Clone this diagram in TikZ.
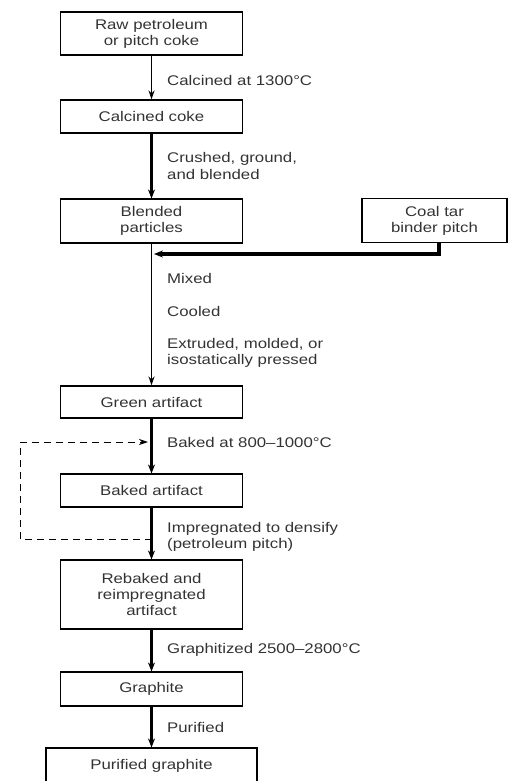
\documentclass[tikz,border=0pt]{standalone}
\usepackage{fontspec}
\setmainfont{Liberation Sans}[FakeStretch=1.2]
\usetikzlibrary{arrows.meta}

\definecolor{inkgray}{HTML}{333333}

\tikzset{
  stage/.style={draw=black, line width=1.1pt, minimum width=182pt, inner sep=0pt,
    align=center, text=inkgray, font=\fontsize{14}{16}\selectfont},
  note/.style={anchor=west, align=left, inner sep=0pt, text=inkgray,
    font=\fontsize{14}{16.5}\selectfont},
  thin flow/.style={line width=1.2pt, -{Stealth[length=9pt,width=6pt]}},
  heavy flow/.style={line width=3.2pt, -{Stealth[length=9pt,width=7pt]}},
  recycle/.style={line width=1pt, dash pattern=on 7pt off 5pt, -{Stealth[length=9pt,width=6pt]}}
}

\begin{document}
\begin{tikzpicture}[x=1pt,y=-1pt]
    \useasboundingbox (0,0) rectangle (509,781);

    % process stages
    \node[stage, minimum height=43pt] (raw) at (151.5,33.5) {Raw petroleum\\or pitch coke};
    \node[stage, minimum height=33pt] (calc) at (151.5,116.5) {Calcined coke};
    \node[stage, minimum height=44pt] (blend) at (151.5,221) {Blended\\particles};
    \node[stage, minimum width=145pt, minimum height=44pt] (coal) at (434.5,220.5) {Coal tar\\binder pitch};
    \node[stage, minimum height=32pt] (green) at (151.5,402) {Green artifact};
    \node[stage, minimum height=33pt] (baked) at (151.5,490.5) {Baked artifact};
    \node[stage, minimum height=69pt] (rebaked) at (151.5,594.5) {Rebaked and\\reimpregnated\\artifact};
    \node[stage, minimum height=34pt] (graph) at (151.5,689) {Graphite};
    \node[stage, minimum width=211pt, minimum height=36pt] (pure) at (151.5,766) {Purified graphite};

    % main flow
    \draw[thin flow] (raw) -- (calc);
    \draw[heavy flow] (calc) -- (blend);
    \draw[thin flow] (blend) -- (green);
    \draw[heavy flow] (green) -- (baked);
    \draw[heavy flow] (baked) -- (rebaked);
    \draw[heavy flow] (rebaked) -- (graph);
    \draw[heavy flow] (graph) -- (pure);

    % binder pitch joins the blend
    \coordinate (join) at (154,254);
    \draw[heavy flow] ([xshift=4.5pt]coal.south) |- (join);

    % re-impregnation loop
    \coordinate (back) at (151.5,539);
    \coordinate (corner) at (20,539);
    \coordinate (enter) at (148,442);
    \draw[recycle] (back) -- (corner) |- (enter);

    % step labels
    \node[note] (lcalc) at (167,80) {Calcined at 1300°C};
    \node[note] (lcrush) at (167,166) {Crushed, ground,\\and blended};
    \node[note] (lmix) at (167,278) {Mixed};
    \node[note] (lcool) at (167,311) {Cooled};
    \node[note] (lform) at (167,353) {Extruded, molded, or\\isostatically pressed};
    \node[note] (lbake) at (167,442) {Baked at 800–1000°C};
    \node[note] (limp) at (167,537) {Impregnated to densify\\(petroleum pitch)};
    \node[note] (lgraph) at (167,650) {Graphitized 2500–2800°C};
    \node[note] (lpure) at (167,727) {Purified};
\end{tikzpicture}
\end{document}
